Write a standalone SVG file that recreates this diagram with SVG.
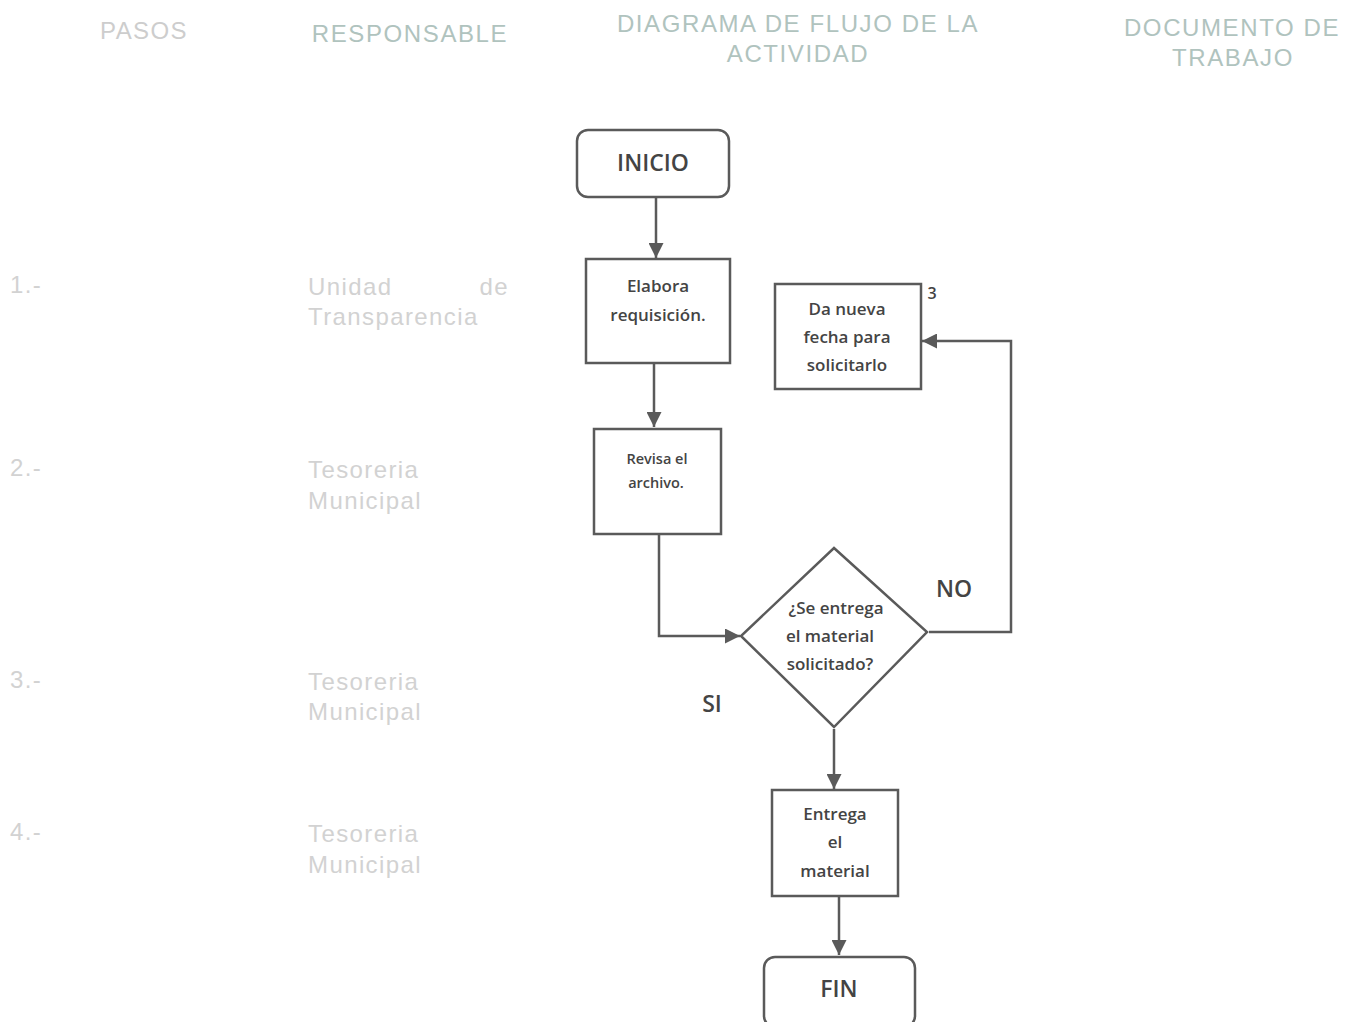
<svg xmlns="http://www.w3.org/2000/svg" width="1349" height="1022" viewBox="0 0 1349 1022">
<style>
.hd{font-family:"Liberation Sans",Arial,sans-serif;font-size:24px;fill:#b0c3be;letter-spacing:1.6px}
.hg{font-family:"Liberation Sans",Arial,sans-serif;font-size:24px;fill:#cdcdcd;letter-spacing:1.4px}
.lt{font-family:"Liberation Sans",Arial,sans-serif;font-size:24px;fill:#d2d2d2;letter-spacing:1.4px}
.nd{fill:#fff;stroke:#5a5a5a;stroke-width:2.5}
.tx{font-family:"Open Sans",Lato,sans-serif;font-weight:600;fill:#444;text-anchor:middle}
.cn{fill:none;stroke:#5a5a5a;stroke-width:2.5}
</style>
<defs>
<marker id="ah" viewBox="0 0 10 10" refX="10" refY="5" markerWidth="6" markerHeight="6" markerUnits="strokeWidth" orient="auto">
<path d="M0,0 L10,5 L0,10 Z" fill="#5a5a5a"/>
</marker>
</defs>
<rect width="1349" height="1022" fill="#fff"/>
<g id="headers">
<text class="hg" x="144" y="39" text-anchor="middle">PASOS</text>
<text class="hd" x="410" y="42" text-anchor="middle">RESPONSABLE</text>
<text class="hd" x="798" y="32" text-anchor="middle">DIAGRAMA DE FLUJO DE LA</text>
<text class="hd" x="798" y="62" text-anchor="middle">ACTIVIDAD</text>
<text class="hd" x="1232" y="36" text-anchor="middle">DOCUMENTO DE</text>
<text class="hd" x="1233" y="66" text-anchor="middle">TRABAJO</text>
</g>
<g id="rows">
<text class="lt" x="10" y="293">1.-</text>
<text class="lt" x="308" y="295">Unidad</text>
<text class="lt" x="509" y="295" text-anchor="end">de</text>
<text class="lt" x="308" y="325">Transparencia</text>
<text class="lt" x="10" y="476">2.-</text>
<text class="lt" x="308" y="478">Tesoreria</text>
<text class="lt" x="308" y="509">Municipal</text>
<text class="lt" x="10" y="688">3.-</text>
<text class="lt" x="308" y="690">Tesoreria</text>
<text class="lt" x="308" y="720">Municipal</text>
<text class="lt" x="10" y="840">4.-</text>
<text class="lt" x="308" y="842">Tesoreria</text>
<text class="lt" x="308" y="873">Municipal</text>
</g>
<g id="connectors">
<line class="cn" x1="656" y1="197" x2="656" y2="258" marker-end="url(#ah)"/>
<line class="cn" x1="654" y1="363" x2="654" y2="427" marker-end="url(#ah)"/>
<polyline class="cn" points="659,534 659,636 740,636" marker-end="url(#ah)"/>
<polyline class="cn" points="929,632 1011,632 1011,341 922,341" marker-end="url(#ah)"/>
<line class="cn" x1="834" y1="729" x2="834" y2="789" marker-end="url(#ah)"/>
<line class="cn" x1="839" y1="896" x2="839" y2="955" marker-end="url(#ah)"/>
<text class="tx" x="954" y="597" font-size="23">NO</text>
<text class="tx" x="712" y="712" font-size="23">SI</text>
</g>
<g id="inicio">
<rect class="nd" x="577" y="130" width="152" height="67" rx="11"/>
<text class="tx" x="653" y="171" font-size="23">INICIO</text>
</g>
<g id="elabora">
<rect class="nd" x="586" y="259" width="144" height="104"/>
<text class="tx" x="658" y="292" font-size="17">Elabora</text>
<text class="tx" x="658" y="321" font-size="17">requisición.</text>
</g>
<g id="revisa">
<rect class="nd" x="594" y="429" width="127" height="105"/>
<text class="tx" x="657" y="464" font-size="14.5">Revisa el</text>
<text class="tx" x="656" y="488" font-size="14.5">archivo.</text>
</g>
<g id="decision">
<polygon class="nd" points="834,548 927,632 834,727 741,636"/>
<text class="tx" x="836" y="614" font-size="17">¿Se entrega</text>
<text class="tx" x="830" y="642" font-size="17">el material</text>
<text class="tx" x="830" y="670" font-size="17">solicitado?</text>
</g>
<g id="nueva">
<rect class="nd" x="775" y="284" width="146" height="105"/>
<text class="tx" x="847" y="315" font-size="17">Da nueva</text>
<text class="tx" x="847" y="343" font-size="17">fecha para</text>
<text class="tx" x="847" y="371" font-size="17">solicitarlo</text>
<text class="tx" x="932" y="299" font-size="16">3</text>
</g>
<g id="entrega">
<rect class="nd" x="772" y="790" width="126" height="106"/>
<text class="tx" x="835" y="820" font-size="17">Entrega</text>
<text class="tx" x="835" y="848" font-size="17">el</text>
<text class="tx" x="835" y="877" font-size="17">material</text>
</g>
<g id="fin">
<rect class="nd" x="764" y="957" width="151" height="70" rx="11"/>
<text class="tx" x="839" y="997" font-size="23">FIN</text>
</g>
</svg>
